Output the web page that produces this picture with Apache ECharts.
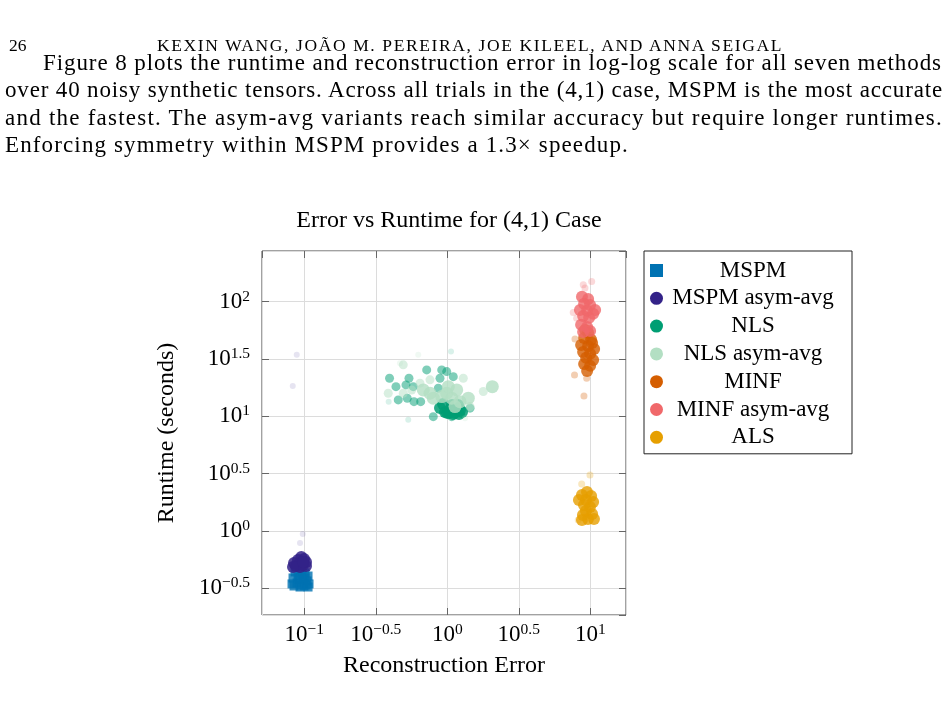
<!DOCTYPE html>
<html>
<head>
<meta charset="utf-8">
<script src="https://cdn.jsdelivr.net/npm/echarts@6/dist/echarts.min.js"></script>
<style>
  html, body { margin: 0; padding: 0; background: #fff; }
  body { width: 947px; height: 708px; position: relative; overflow: hidden;
         font-family: "Liberation Serif", "DejaVu Serif", serif; color: #000; }
  #chart { position: absolute; left: 0; top: 0; width: 947px; height: 708px; }
  .abs { position: absolute; white-space: nowrap; }
  #pageno { left: 9px; top: 35px; font-size: 17.5px; line-height: 20px; }
  #runhead { left: 157px; top: 35px; font-size: 17.5px; line-height: 20px; }
  #para { position: absolute; left: 5px; top: 49px; width: 938px; font-size: 23px; line-height: 27.3px; }
  #para div { white-space: nowrap; text-align: left; }
</style>
</head>
<body>
<div id="chart"></div>
<div id="pageno" class="abs">26</div>
<div id="runhead" class="abs"><span>KEXIN WANG, JOÃO M. PEREIRA, JOE KILEEL, AND ANNA SEIGAL</span></div>
<div id="para">
  <div style="padding-left:38px"><span>Figure 8 plots the runtime and reconstruction error in log-log scale for all seven methods</span></div>
  <div><span>over 40 noisy synthetic tensors. Across all trials in the (4,1) case, MSPM is the most accurate</span></div>
  <div><span>and the fastest. The asym-avg variants reach similar accuracy but require longer runtimes.</span></div>
  <div><span>Enforcing symmetry within MSPM provides a 1.3× speedup.</span></div>
</div>
<script>
// stretch a one-line text to a given width with letter spacing
function fitWidth(span, target) {
  span.style.letterSpacing = '0px';
  const w = span.getBoundingClientRect().width;
  const n = span.textContent.length;
  span.style.letterSpacing = ((target - w) / n) + 'px';
}
fitWidth(document.querySelector('#runhead span'), 626);
const lineSpans = document.querySelectorAll('#para span');
const lineWidths = [899, 938, 938, 624];
lineSpans.forEach((s, i) => fitWidth(s, lineWidths[i]));

// points are [log10(reconstruction error), log10(runtime in seconds)]
const mspmMain = [
  [-1.065, -0.358], [-1.030, -0.349], [-0.995, -0.366], [-0.974, -0.393],
  [-1.079, -0.410], [-1.044, -0.401], [-1.009, -0.419], [-0.981, -0.436],
  [-1.086, -0.462], [-1.051, -0.454], [-1.023, -0.471], [-0.988, -0.471],
  [-0.967, -0.462], [-1.072, -0.480], [-1.030, -0.489], [-1.002, -0.480],
  [-0.974, -0.489], [-1.037, -0.428], [-0.995, -0.410], [-1.016, -0.384]
];
const mspmAsymMain = [
  [-1.021, -0.227], [-1.002, -0.244], [-1.044, -0.253], [-0.988, -0.271],
  [-1.072, -0.279], [-1.030, -0.279], [-1.009, -0.297], [-1.058, -0.305],
  [-0.988, -0.305], [-1.030, -0.314], [-1.079, -0.314], [-1.009, -0.271]
];
const mspmAsymFaint = [
  [-1.011, -0.026], [-1.030, -0.105], [-1.053, 1.536], [-1.081, 1.265]
];
const nlsMain = [
  [-0.051, 1.073], [-0.016, 1.038], [0.019, 1.056], [0.054, 1.030],
  [0.089, 1.056], [0.033, 1.099], [0.075, 1.099], [-0.002, 1.030],
  [0.040, 1.021], [0.082, 1.021], [-0.030, 1.108], [0.061, 1.065],
  [0.103, 1.038], [0.012, 1.030]
];
const nlsMid = [
  [-0.404, 1.332], [-0.359, 1.259], [-0.289, 1.274], [-0.238, 1.259],
  [-0.268, 1.332], [-0.343, 1.143], [-0.280, 1.158], [-0.233, 1.128],
  [-0.186, 1.128], [-0.144, 1.405], [-0.051, 1.332], [-0.039, 1.405],
  [-0.004, 1.390], [0.042, 1.346], [-0.063, 1.245], [0.031, 0.997],
  [-0.098, 0.997], [0.159, 1.071]
];
const nlsFaint = [
  [0.026, 1.565], [-0.273, 0.969], [-0.410, 1.128]
];
const nlsAsymMain = [
  [-0.004, 1.201], [0.066, 1.230], [0.031, 1.158], [0.089, 1.128],
  [-0.121, 1.201], [-0.098, 1.158], [-0.039, 1.172], [0.007, 1.259],
  [0.147, 1.158], [0.315, 1.259], [0.054, 1.085], [-0.168, 1.230]
];
const nlsAsymMid = [
  [0.112, 1.332], [-0.121, 1.318], [-0.308, 1.449], [-0.413, 1.201],
  [-0.308, 1.201], [0.252, 1.216], [0.159, 1.085], [-0.191, 1.289],
  [-0.249, 1.230]
];
const nlsAsymFaint = [
  [-0.203, 1.536], [-0.331, 1.463], [0.124, 0.983]
];
const minfMain = [
  [0.985, 1.728], [0.957, 1.684], [1.006, 1.667], [0.936, 1.623],
  [0.985, 1.614], [1.027, 1.588], [0.950, 1.562], [0.999, 1.545],
  [0.971, 1.510], [1.020, 1.492], [0.957, 1.457], [0.999, 1.440],
  [0.978, 1.396], [1.013, 1.640], [0.964, 1.754]
];
const minfFaint = [
  [0.893, 1.675], [0.890, 1.361], [0.956, 1.178], [0.975, 1.332]
];
const minfAsymMain = [
  [0.942, 2.042], [0.985, 2.024], [0.957, 1.981], [0.999, 1.972],
  [0.928, 1.928], [0.978, 1.920], [1.034, 1.928], [1.020, 1.894],
  [0.950, 1.876], [0.992, 1.859], [0.936, 1.798], [0.978, 1.780],
  [0.950, 1.736], [0.999, 1.745]
];
const minfAsymFaint = [
  [0.951, 2.147], [1.010, 2.175], [0.963, 2.120], [0.881, 1.905], [0.905, 1.856]
];
const alsMain = [
  [0.977, 0.340], [0.942, 0.314], [1.006, 0.305], [0.921, 0.271],
  [0.970, 0.271], [1.020, 0.253], [0.956, 0.227], [0.998, 0.209],
  [0.970, 0.175], [1.013, 0.148], [0.949, 0.140], [0.984, 0.105],
  [1.026, 0.105], [0.942, 0.096]
];
const alsFaint = [
  [0.940, 0.410], [0.998, 0.489], [0.916, 0.096]
];

const methods = ['MSPM', 'MSPM asym-avg', 'NLS', 'NLS asym-avg', 'MINF', 'MINF asym-avg', 'ALS'];
const colors = ['#0072B2', '#332288', '#009E73', '#B3DFC3', '#D55E00', '#F0686A', '#E69F00'];

const serif = '"Liberation Serif", "DejaVu Serif", serif';

function scatter(idx, data, size, opacity, symbol) {
  return {
    name: methods[idx],
    type: 'scatter',
    data: data,
    symbol: symbol || 'circle',
    symbolSize: size,
    itemStyle: { color: colors[idx], opacity: opacity },
    emphasis: { disabled: true }
  };
}

// labels like 10^-0.5 for tick values on the log10 scale
function powLabel(v) {
  const r = Math.round(v * 2) / 2;
  if (Math.abs(v - r) > 1e-6) return '';
  const a = Math.abs(r);
  const e = (r < 0 ? '\u2212' : '') + (a % 1 === 0 ? a.toFixed(0) : a.toFixed(1));
  return '{b|10}{e|' + e + '}';
}
const labelRich = {
  b: { fontSize: 23, fontFamily: serif, color: '#000', lineHeight: 26 },
  e: { fontSize: 15.5, fontFamily: serif, color: '#000', verticalAlign: 'top', lineHeight: 14 }
};

const tickStyle = { show: true, inside: true, length: 7, lineStyle: { color: '#666', width: 1 } };
const gridLine = { show: true, lineStyle: { color: '#dcdcdc', width: 1 } };
const noLine = { show: false, onZero: false };

const chart = echarts.init(document.getElementById('chart'));

const option = {
  animation: false,
  title: {
    text: 'Error vs Runtime for (4,1) Case',
    left: 444,
    textAlign: 'center',
    top: 204,
    textStyle: { fontFamily: serif, fontSize: 24, fontWeight: 'normal', color: '#000' }
  },
  grid: {
    left: 262, top: 251, width: 364, height: 364,
    show: true, borderColor: '#444', borderWidth: 1
  },
  legend: {
    orient: 'vertical',
    left: 644,
    top: 251,
    padding: [8, 14, 5, 6],
    borderColor: '#222',
    borderWidth: 1,
    itemWidth: 13,
    itemHeight: 13,
    itemGap: 4.8,
    itemStyle: { opacity: 1 },
    data: methods.map((m, i) => ({ name: m, icon: i === 0 ? 'rect' : 'circle' })),
    formatter: name => '{c|' + name + '}',
    textStyle: {
      rich: { c: { width: 170, align: 'center', fontSize: 23, fontFamily: serif, color: '#000', lineHeight: 22 } }
    }
  },
  xAxis: [{
    type: 'value', min: -1.296, max: 1.25, position: 'bottom',
    axisLine: noLine, axisTick: tickStyle, splitLine: gridLine,
    axisLabel: { formatter: powLabel, rich: labelRich, margin: 7, showMinLabel: false, showMaxLabel: false },
    name: 'Reconstruction Error', nameLocation: 'middle', nameGap: 39,
    nameTextStyle: { fontFamily: serif, fontSize: 24, color: '#000' }
  }, {
    type: 'value', min: -1.296, max: 1.25, position: 'top',
    axisLine: noLine, axisTick: tickStyle, splitLine: { show: false },
    axisLabel: { show: false }
  }],
  yAxis: [{
    type: 'value', min: -0.733, max: 2.442, position: 'left',
    axisLine: noLine, axisTick: tickStyle, splitLine: gridLine,
    axisLabel: { formatter: powLabel, rich: labelRich, margin: 12, showMinLabel: false, showMaxLabel: false },
    name: 'Runtime (seconds)', nameLocation: 'middle', nameGap: 83,
    nameTextStyle: { fontFamily: serif, fontSize: 24, color: '#000' }
  }, {
    type: 'value', min: -0.733, max: 2.442, position: 'right',
    axisLine: noLine, axisTick: tickStyle, splitLine: { show: false },
    axisLabel: { show: false }
  }],
  series: [
    scatter(0, mspmMain, 9, 0.8, 'rect'),
    scatter(1, mspmAsymMain, 12, 0.85),
    scatter(1, mspmAsymFaint, 6, 0.12),
    scatter(2, nlsMid, 9, 0.5),
    scatter(2, nlsFaint, 6, 0.15),
    scatter(2, nlsMain, 12, 0.85),
    scatter(3, nlsAsymMain, 13, 0.8),
    scatter(3, nlsAsymMid, 9, 0.5),
    scatter(3, nlsAsymFaint, 6, 0.2),
    scatter(4, minfMain, 12, 0.8),
    scatter(4, minfFaint, 7, 0.3),
    scatter(5, minfAsymMain, 12, 0.8),
    scatter(5, minfAsymFaint, 7, 0.25),
    scatter(6, alsMain, 12, 0.8),
    scatter(6, alsFaint, 7, 0.25)
  ]
};

chart.setOption(option);
</script>
</body>
</html>
